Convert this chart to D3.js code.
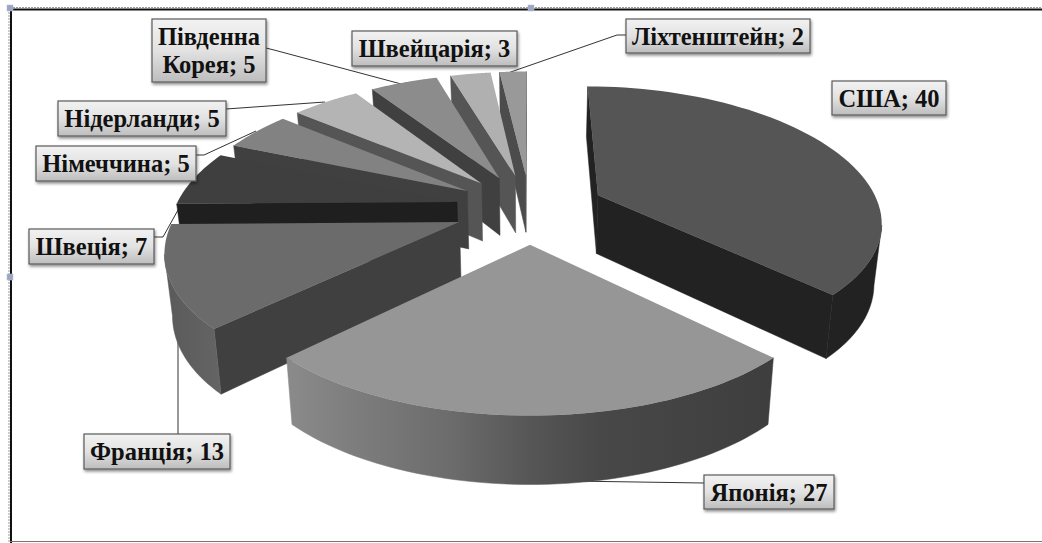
<!DOCTYPE html>
<html><head><meta charset="utf-8">
<script src="https://cdn.jsdelivr.net/npm/d3@7"></script>
<style>html,body{margin:0;padding:0;background:#fff}svg{display:block}</style>
</head><body><svg id="c" width="1042" height="543"></svg>
<script>
const categories=["США","Японія","Франція","Швеція","Німеччина","Нідерланди","Південна Корея","Швейцарія","Ліхтенштейн"];
const values=[40,27,13,7,5,5,5,3,2];
const topColors=["#555555","#969696","#6b6b6b","#3f3f3f","#828282","#b4b4b4","#8c8c8c","#b0b0b0","#999999"];
const wallColors=["#222222","#444444","#404040","#1f1f1f","#404040","#555555","#404040","#555555","#4c4c4c"];
const labelLines=[["США; 40"],["Японія; 27"],["Франція; 13"],["Швеція; 7"],["Німеччина; 5"],["Нідерланди; 5"],["Південна","Корея; 5"],["Швейцарія; 3"],["Ліхтенштейн; 2"]];
// label boxes [x0,y0,x1,y1] and leader polylines (layout only)
const labelBoxes=[[832,81,946,115],[704,475,834,509],[84,434,230,469],[29,229,154,264],[36,146,196,181],[58,101,226,136],[152,19,266,82],[352,31,517,66],[626,19,810,53]];
const leaders=[null,[[530,481],[570,481],[704,483]],[[178,330],[178,434]],[[154,237],[163,237],[178,210]],[[196,155],[204,155],[256,131]],[[226,109],[325,102]],[[266,48],[274,50],[405,85]],null,[[505,74],[617,35],[626,35]]];

const xc=530,yc=208.5,R=282,k=0.462,px=0.00064,py=0.00057,H=59,E=75;
const svg=d3.select("#c");
const defs=svg.append("defs");
const project=(gx,gy,z=0)=>{
 const sx=1/(1-px*gy),sy=1/(1-py*gy);
 return [xc+gx*sx*(1-0.022*z/H), yc+gy*k*sy+z*(1+0.00047*gy)];
};
const poly=d3.line();
const arcs=d3.pie().sort(null).startAngle(0).endAngle(2*Math.PI)(values);

svg.append("rect").attr("width",1042).attr("height",543).attr("fill","#fff");

// frame
svg.append("line").attr("x1",10).attr("x2",1042).attr("y1",9.5).attr("y2",9.5).attr("stroke","#111").attr("stroke-width",2);
svg.append("line").attr("x1",10).attr("x2",1042).attr("y1",7.5).attr("y2",7.5).attr("stroke","#999").attr("stroke-width",1).attr("stroke-dasharray","2 1");
svg.append("line").attr("x1",11).attr("x2",11).attr("y1",9).attr("y2",543).attr("stroke","#111").attr("stroke-width",2);
svg.append("line").attr("x1",9).attr("x2",9).attr("y1",9).attr("y2",543).attr("stroke","#999").attr("stroke-width",1).attr("stroke-dasharray","2 1");
svg.append("line").attr("x1",10).attr("x2",1042).attr("y1",541.5).attr("y2",541.5).attr("stroke","#777").attr("stroke-width",1);
[[10,8],[531,8],[10,277]].forEach(h=>svg.append("rect").attr("x",h[0]-3).attr("y",h[1]-3).attr("width",6).attr("height",6).attr("fill","#9aa6c8").attr("stroke","#bbb").attr("stroke-width",0.5));

const lb=defs.append("linearGradient").attr("id","lab").attr("x1",0).attr("y1",0).attr("x2",0).attr("y2",1);
lb.append("stop").attr("offset",0).attr("stop-color","#f2f2f2");
lb.append("stop").attr("offset",0.5).attr("stop-color","#e2e2e2");
lb.append("stop").attr("offset",1).attr("stop-color","#bdbdbd");
const f=defs.append("filter").attr("id","sh").attr("x","-10%").attr("y","-20%").attr("width","120%").attr("height","150%");
f.append("feDropShadow").attr("dx",1).attr("dy",2).attr("stdDeviation",1.5).attr("flood-color","#000").attr("flood-opacity",0.45);

const outerGrad={
 1:[[290,"#8a8a8a"],[350,"#7e7e7e"],[450,"#6c6c6c"],[530,"#565656"],[600,"#484848"],[770,"#3e3e3e"]],
 2:[[165,"#5a5a5a"],[230,"#666666"]]
};
Object.keys(outerGrad).forEach(i=>{
 const a=outerGrad[i][0][0],b=outerGrad[i].at(-1)[0];
 const g=defs.append("linearGradient").attr("id","og"+i).attr("gradientUnits","userSpaceOnUse")
  .attr("x1",a).attr("x2",b).attr("y1",0).attr("y2",0);
 outerGrad[i].forEach(s=>g.append("stop").attr("offset",(s[0]-a)/(b-a)).attr("stop-color",s[1]));
});

// leaders sit under the pie so that they stop at its edge
leaders.forEach(l=>{ if(l) svg.append("path").attr("d",poly(l)).attr("fill","none").attr("stroke","#333").attr("stroke-width",1); });

const slices=arcs.map((d,i)=>{
 const mid=(d.startAngle+d.endAngle)/2;
 return {i,a0:d.startAngle,a1:d.endAngle,x0:E*Math.sin(mid),y0:-E*Math.cos(mid)};
}).sort((a,b)=>a.y0-b.y0);

const pie=svg.append("g");
const camY=1/px;
slices.forEach(s=>{
 const g=pie.append("g");
 const P=a=>[s.x0+R*Math.sin(a),s.y0-R*Math.cos(a)];
 const angles=d3.range(0,61).map(t=>s.a0+(s.a1-s.a0)*t/60);
 const facing=(qx,qy,nx,ny)=>(0-qx)*nx+(camY-qy)*ny>0;
 [[s.a0,-Math.cos(s.a0),-Math.sin(s.a0)],[s.a1,Math.cos(s.a1),Math.sin(s.a1)]].forEach(([a,nx,ny])=>{
  if(!facing(s.x0,s.y0,nx,ny))return;
  const q=P(a);
  g.append("path").attr("d",poly([project(s.x0,s.y0),project(q[0],q[1]),project(q[0],q[1],H),project(s.x0,s.y0,H)])+"Z")
   .attr("fill",wallColors[s.i]).attr("stroke",wallColors[s.i]).attr("stroke-width",0.5);
 });
 const vis=angles.filter(a=>{const q=P(a);return facing(q[0],q[1],Math.sin(a),-Math.cos(a));});
 if(vis.length>1){
  const up=vis.map(a=>{const q=P(a);return project(q[0],q[1]);});
  const dn=vis.map(a=>{const q=P(a);return project(q[0],q[1],H);}).reverse();
  const fill=outerGrad[s.i]?`url(#og${s.i})`:wallColors[s.i];
  g.append("path").attr("d",poly(up.concat(dn))+"Z").attr("fill",fill).attr("stroke",fill).attr("stroke-width",0.5);
 }
 const top=[project(s.x0,s.y0)].concat(angles.map(a=>{const q=P(a);return project(q[0],q[1]);}));
 g.append("path").attr("d",poly(top)+"Z").attr("fill",topColors[s.i]);
});

// labels
labelBoxes.forEach((b,i)=>{
 const g=svg.append("g");
 g.append("rect").attr("x",b[0]).attr("y",b[1]).attr("width",b[2]-b[0]).attr("height",b[3]-b[1])
  .attr("fill","url(#lab)").attr("stroke","#5a5a5a").attr("stroke-width",1.2).attr("filter","url(#sh)");
 const lines=labelLines[i],cx=(b[0]+b[2])/2,n=lines.length,lh=28;
 lines.forEach((t,j)=>{
  g.append("text").attr("x",cx).attr("y",(b[1]+b[3])/2+(j-(n-1)/2)*lh+8.5)
   .attr("text-anchor","middle").attr("font-family","'Liberation Serif',serif").attr("font-weight","bold")
   .attr("font-size",24.5).attr("fill","#111").text(t);
 });
});
</script></body></html>
